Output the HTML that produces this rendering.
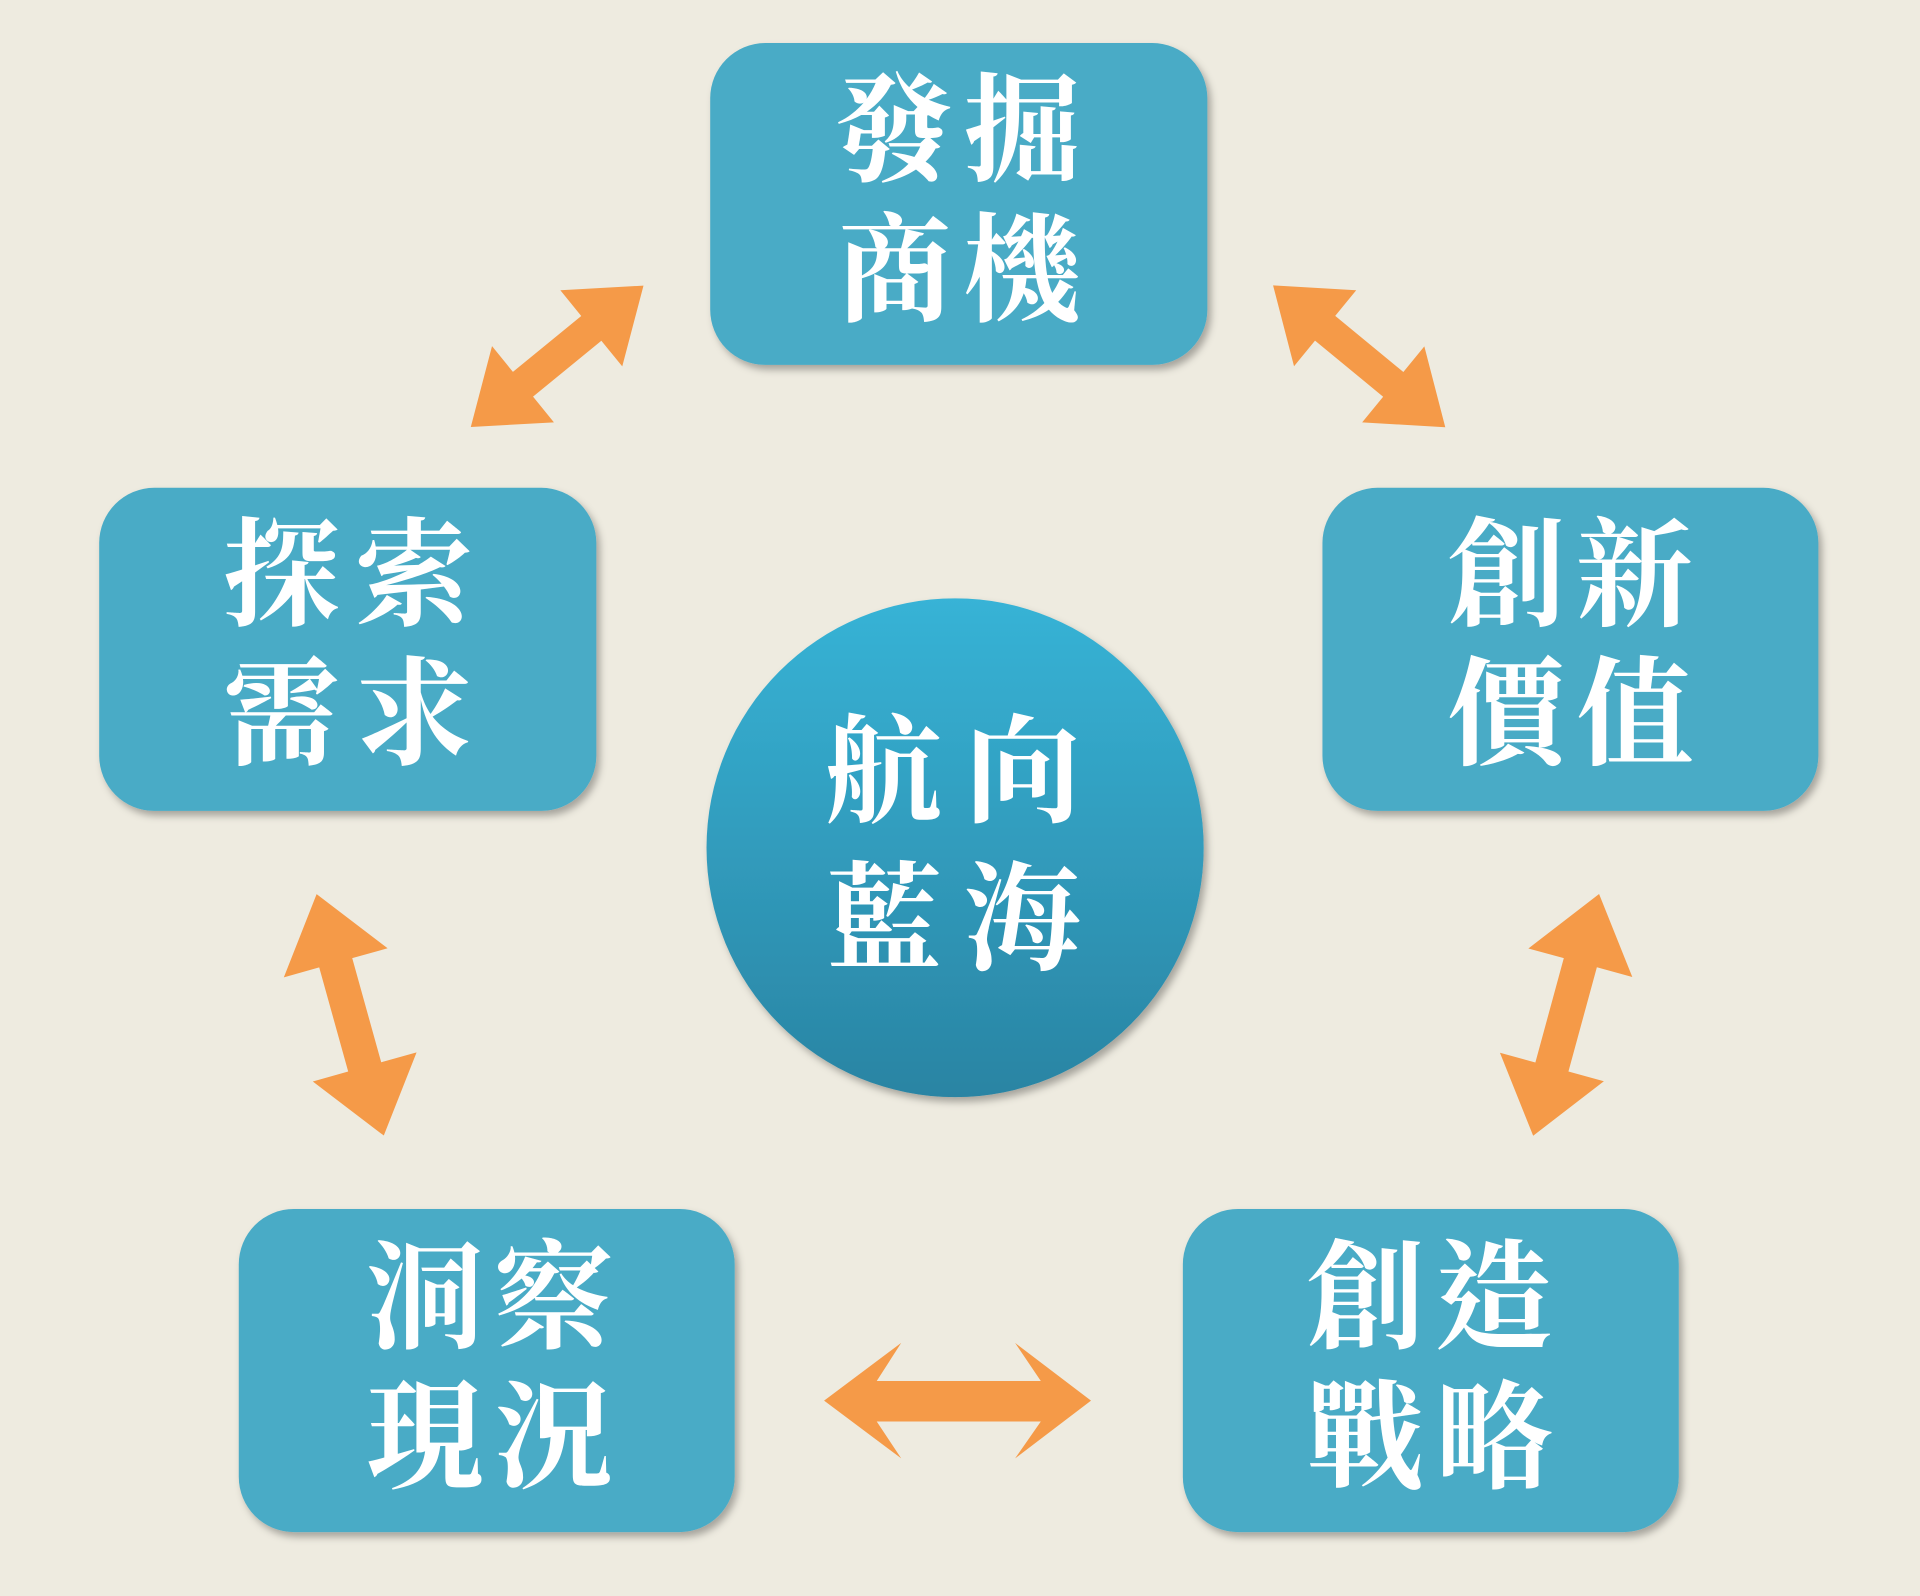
<!DOCTYPE html>
<html><head><meta charset="utf-8"><style>
html,body{margin:0;padding:0;background:#eeebe0;}
svg{display:block}
text{font-family:"Liberation Serif","Noto Serif CJK TC","Noto Serif CJK SC",serif;font-weight:bold;fill:#fff;font-size:96px;text-anchor:middle;dominant-baseline:central}
</style></head><body>
<svg width="1920" height="1596" viewBox="0 0 1568 1299" preserveAspectRatio="none">
<defs>
<linearGradient id="g" x1="0" y1="0" x2="0" y2="1">
<stop offset="0" stop-color="#37b3d6"/><stop offset="1" stop-color="#2a84a3"/>
</linearGradient>
<filter id="s" x="-10%" y="-10%" width="125%" height="125%">
<feDropShadow dx="3" dy="4" stdDeviation="3" flood-color="#000" flood-opacity="0.3"/>
</filter>
<polygon id="a" points="-91,0 -36,-40 -36,-13 36,-13 36,-40 91,0 36,40 36,13 -36,13 -36,40" fill="#f59a48"/>
<polygon id="a2" points="-102,0 -44,-44 -44,-14 44,-14 44,-44 102,0 44,44 44,14 -44,14 -44,44" fill="#f59a48"/>
</defs>
<rect width="1568" height="1299" fill="#eeebe0"/>
<g fill="#4aabc6" filter="url(#s)">
<rect x="580" y="35" width="406" height="262" rx="45"/>
<rect x="81" y="397" width="406" height="263" rx="45"/>
<rect x="1080" y="397" width="405" height="263" rx="45"/>
<rect x="195" y="984" width="405" height="263" rx="45"/>
<rect x="966" y="984" width="405" height="263" rx="45"/>
<circle cx="780" cy="690" r="203" fill="url(#g)"/>
</g>
<polygon points="673,1140 736,1093 716,1124 850,1124 829,1093 891,1140 829,1187 850,1157 716,1157 736,1187" fill="#f59a48"/>
<use href="#a" transform="translate(455,290) rotate(-39.2)"/>
<use href="#a" transform="translate(1110,290) rotate(39.4)"/>
<use href="#a2" transform="translate(286,826) rotate(74.4)"/>
<use href="#a2" transform="translate(1279,826) rotate(105.3)"/>
<text x="730" y="108">發</text><text x="835" y="108">掘</text>
<text x="730" y="222">商</text><text x="835" y="222">機</text>
<text x="230" y="470">探</text><text x="338" y="470">索</text>
<text x="230" y="583">需</text><text x="338" y="583">求</text>
<text x="1230" y="470">創</text><text x="1335" y="470">新</text>
<text x="1230" y="583">價</text><text x="1335" y="583">值</text>
<text x="722" y="630">航</text><text x="835" y="630">向</text>
<text x="722" y="750">藍</text><text x="835" y="750">海</text>
<text x="347" y="1058">洞</text><text x="452" y="1058">察</text>
<text x="347" y="1172">現</text><text x="452" y="1172">況</text>
<text x="1115" y="1058">創</text><text x="1220" y="1058">造</text>
<text x="1115" y="1172">戰</text><text x="1220" y="1172">略</text>
</svg>
</body></html>
